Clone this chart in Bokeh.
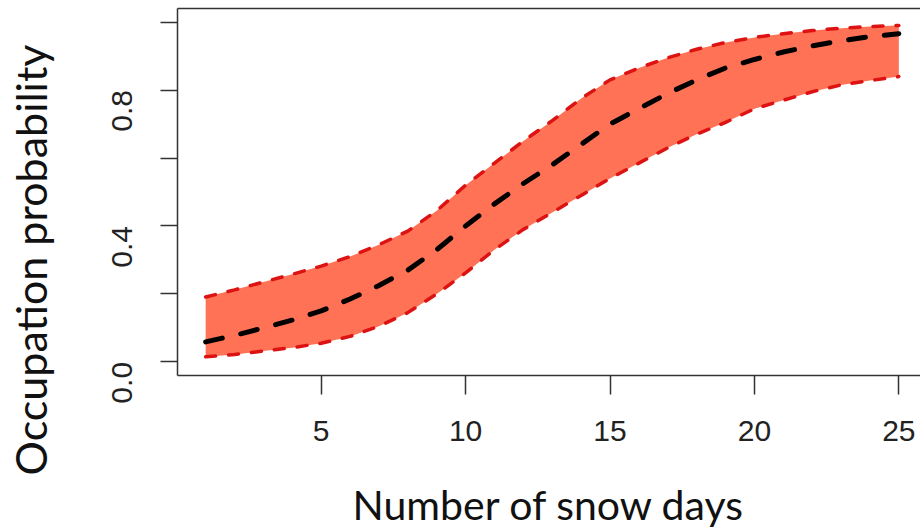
import math
from bokeh.plotting import figure
from bokeh.models import (Range1d, FixedTicker, LinearAxis, Title,
                          CustomJSTickFormatter)
from bokeh.embed import file_html
from bokeh.resources import INLINE

# ---- data ----
snow_days = [1, 2, 3, 4, 5, 6, 7, 8, 9, 10, 11, 12, 13,
             14, 15, 16, 17, 18, 19, 20, 21, 22, 23, 24, 25]
prob_mean = [0.059, 0.078, 0.100, 0.123, 0.150, 0.185, 0.225, 0.270, 0.330,
             0.400, 0.465, 0.525, 0.580, 0.640, 0.700, 0.745, 0.790, 0.830,
             0.865, 0.890, 0.912, 0.930, 0.945, 0.957, 0.966]
prob_upper = [0.191, 0.212, 0.235, 0.258, 0.282, 0.310, 0.345, 0.385, 0.445,
              0.520, 0.585, 0.650, 0.710, 0.775, 0.830, 0.865, 0.895, 0.920,
              0.940, 0.955, 0.966, 0.975, 0.982, 0.987, 0.990]
prob_lower = [0.015, 0.022, 0.032, 0.042, 0.055, 0.075, 0.105, 0.145, 0.200,
              0.262, 0.330, 0.390, 0.440, 0.490, 0.540, 0.585, 0.630, 0.670,
              0.705, 0.745, 0.770, 0.795, 0.815, 0.828, 0.840]
x_ticks = [5, 10, 15, 20, 25]
y_ticks = [0.0, 0.2, 0.4, 0.6, 0.8, 1.0]
x_title = "Number of snow days"
y_title = "Occupation probability"

FILL = "#FF7256"
RED = "#DD1212"
AXIS = "#333333"

p = figure(width=920, height=531, output_backend="svg", toolbar_location=None,
           x_range=Range1d(0.025, 25.75), y_range=Range1d(-0.04, 1.04),
           min_border_left=177, min_border_right=0, min_border_top=8,
           min_border_bottom=155, x_axis_type=None, y_axis_type=None)
p.outline_line_color = None
p.background_fill_color = "white"
p.border_fill_color = "white"
p.xgrid.visible = False
p.ygrid.visible = False

# band
p.varea(x=snow_days, y1=prob_lower, y2=prob_upper, fill_color=FILL, fill_alpha=1.0)
p.line(snow_days, prob_upper, line_color=RED, line_width=3.5, line_dash="10 13", line_cap="round")
p.line(snow_days, prob_lower, line_color=RED, line_width=3.5, line_dash="10 13", line_cap="round")
p.line(snow_days, prob_mean, line_color="black", line_width=5, line_dash="17 19", line_cap="round")

# axes
xax = LinearAxis(ticker=FixedTicker(ticks=x_ticks), axis_label=x_title)
xax.axis_line_color = AXIS
xax.axis_line_width = 1.5
xax.major_tick_line_color = AXIS
xax.major_tick_line_width = 1.5
xax.major_tick_out = 19
xax.major_tick_in = 0
xax.minor_tick_line_color = None
xax.major_label_text_font = "Liberation Sans"
xax.major_label_text_font_size = "30px"
xax.major_label_text_color = "#222222"
xax.major_label_standoff = 26
xax.axis_label_text_font = "Lato"
xax.axis_label_text_font_size = "41px"
xax.axis_label_text_font_style = "normal"
xax.axis_label_text_color = "#111111"
xax.axis_label_standoff = 36
p.add_layout(xax, "below")

yax = LinearAxis(ticker=FixedTicker(ticks=y_ticks))
yax.formatter = CustomJSTickFormatter(code="""
const v = Math.round(tick * 10);
return (v % 4 == 0) ? tick.toFixed(1) : "";
""")
yax.axis_line_color = AXIS
yax.axis_line_width = 1.5
yax.major_tick_line_color = AXIS
yax.major_tick_line_width = 1.5
yax.major_tick_out = 17
yax.major_tick_in = 0
yax.minor_tick_line_color = None
yax.major_label_orientation = math.pi / 2
yax.major_label_text_font = "Liberation Sans"
yax.major_label_text_font_size = "30px"
yax.major_label_text_color = "#222222"
yax.major_label_standoff = 38
p.add_layout(yax, "left")

# invisible spacer between the y axis and its title
spacer = LinearAxis(ticker=FixedTicker(ticks=[0.5]))
spacer.formatter = CustomJSTickFormatter(code="return '';")
spacer.axis_line_color = None
spacer.major_tick_line_color = None
spacer.minor_tick_line_color = None
spacer.major_tick_out = 44
spacer.major_tick_in = 0
spacer.major_label_standoff = 0
spacer.major_label_text_font_size = "1px"
p.add_layout(spacer, "left")

ytitle = Title(text=y_title, align="left", offset=-100, vertical_align="bottom",
               standoff=0, text_font="Lato", text_font_size="43px",
               text_font_style="normal", text_color="#111111")
p.add_layout(ytitle, "left")

top = LinearAxis(ticker=FixedTicker(ticks=[]))
top.axis_line_color = AXIS
top.axis_line_width = 1.5
top.major_tick_line_color = None
top.minor_tick_line_color = None
top.major_tick_out = 0
top.major_tick_in = 0
top.major_label_standoff = 0
top.major_label_text_font_size = "0px"
p.add_layout(top, "above")

open("out.html", "w").write(file_html(p, INLINE))
